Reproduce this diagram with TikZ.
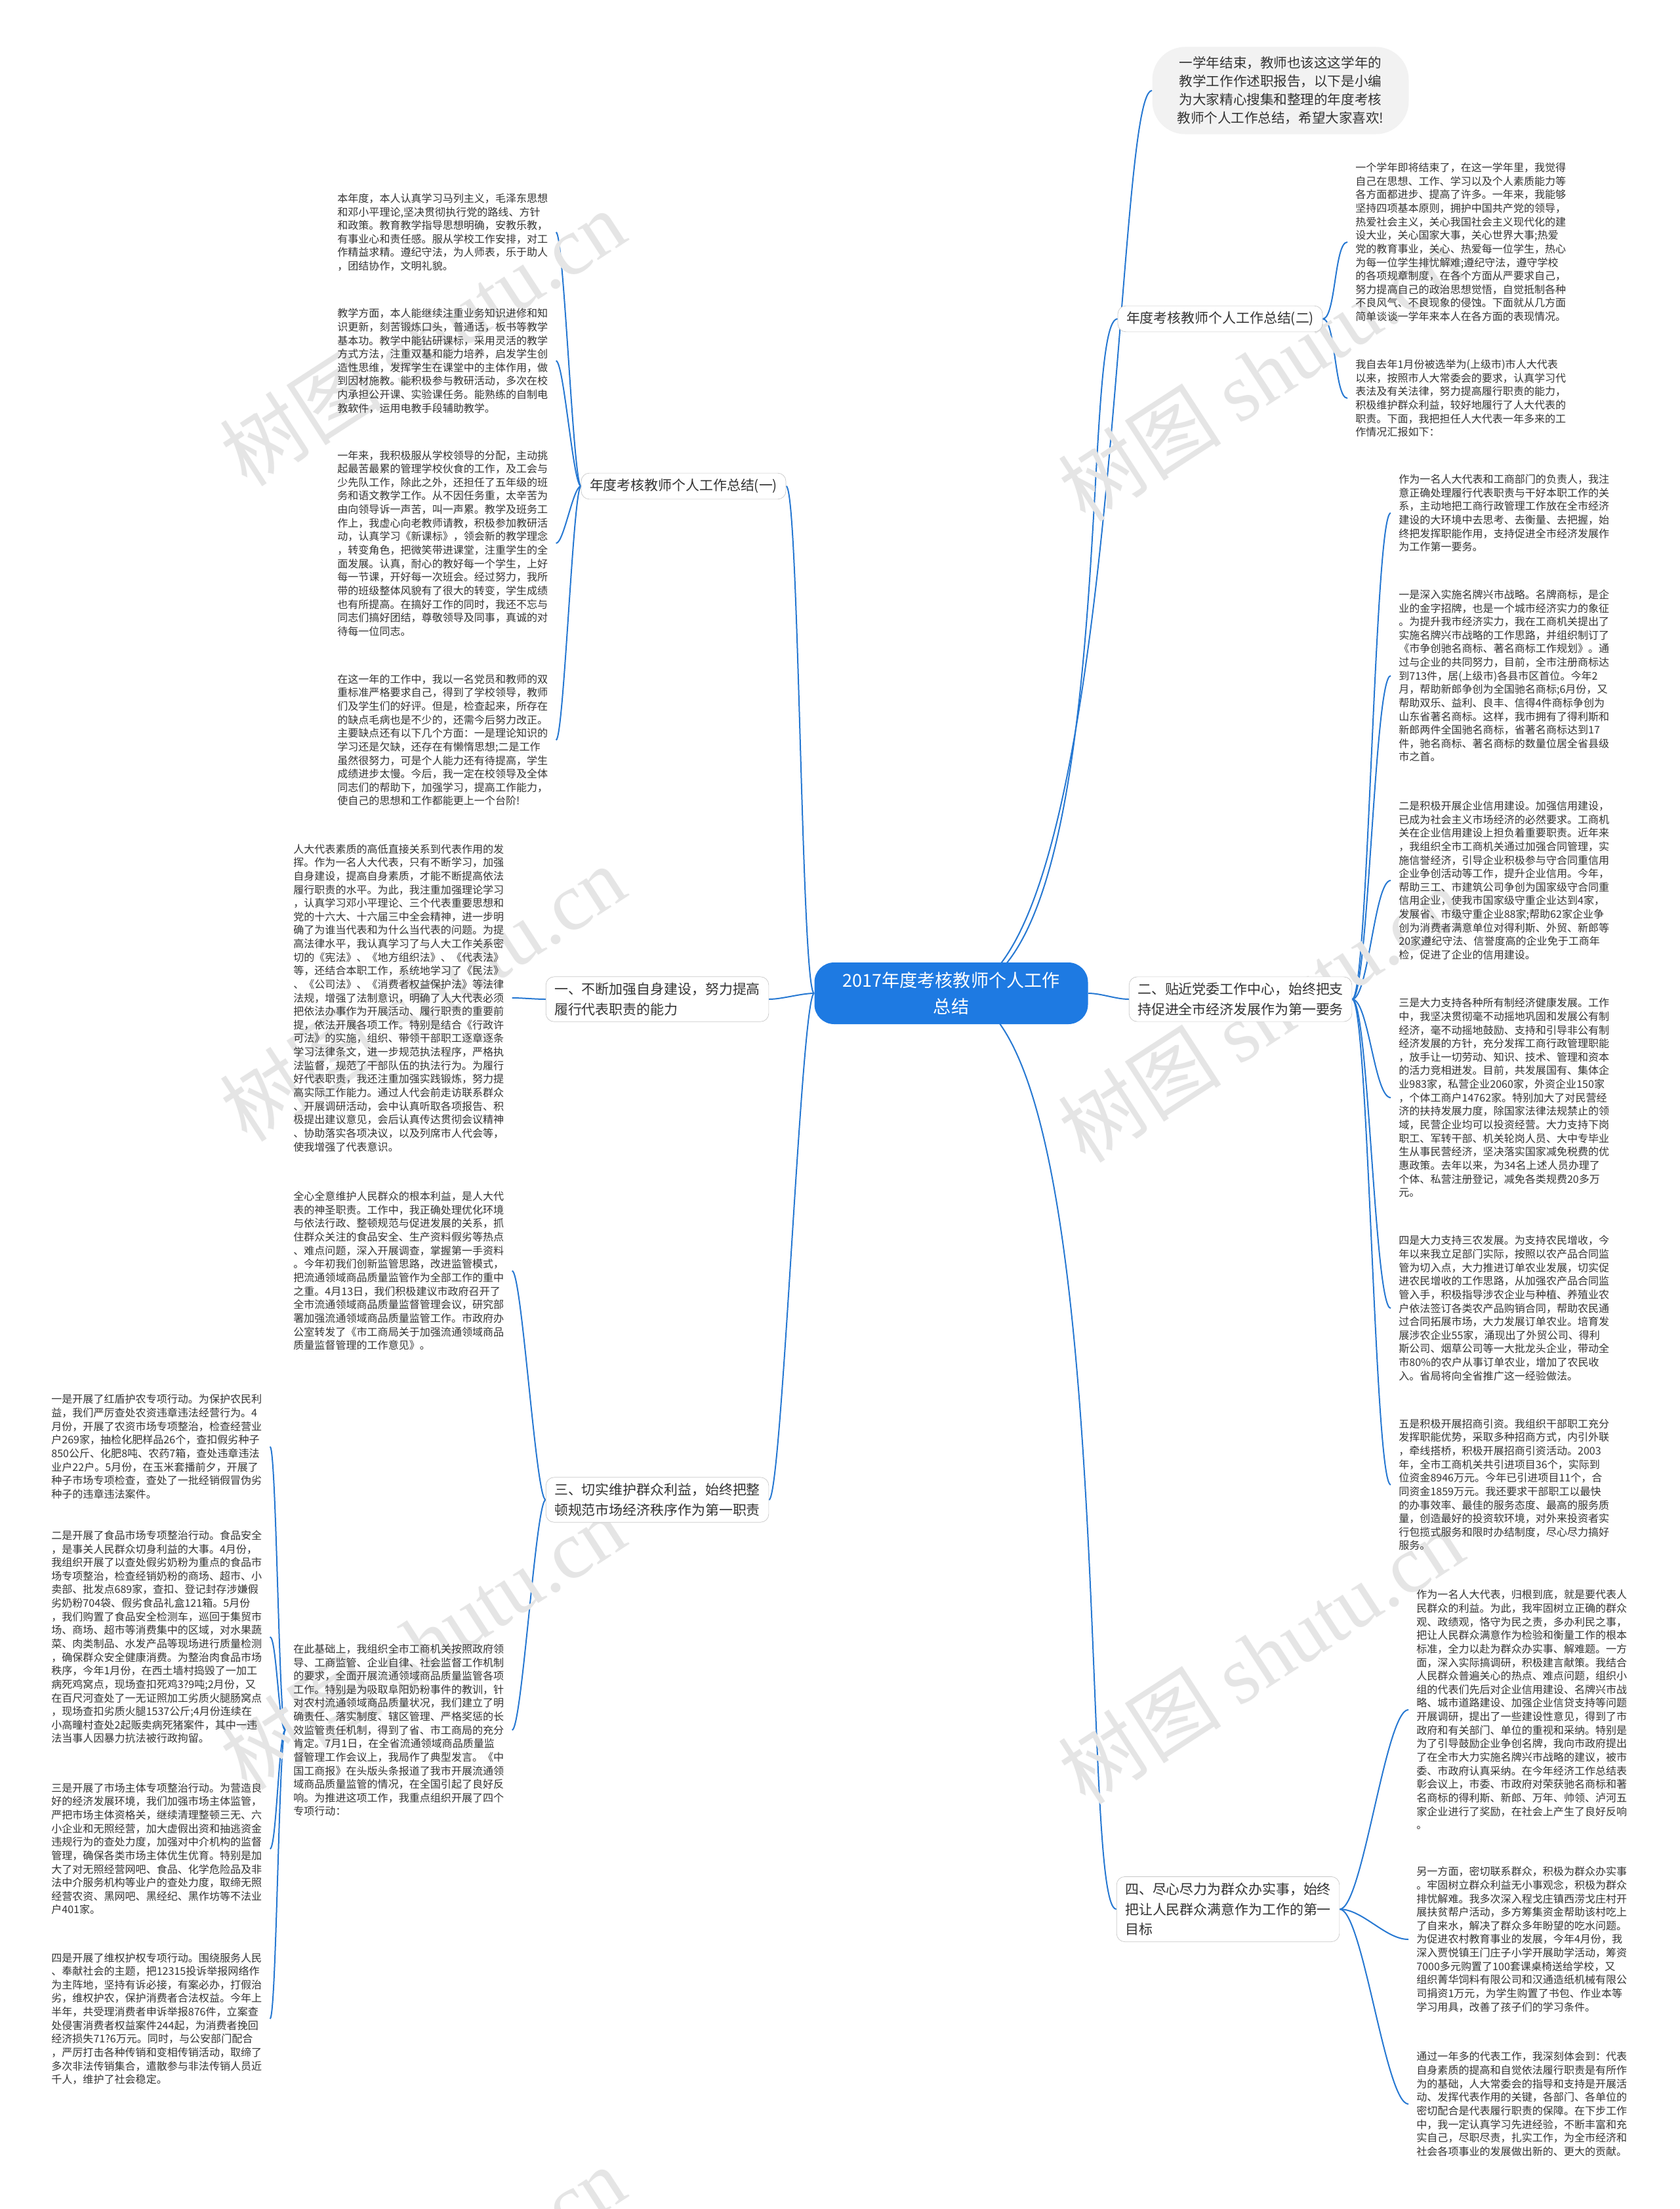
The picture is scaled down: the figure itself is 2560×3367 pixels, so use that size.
\documentclass[tikz,border=0pt]{standalone}
\usepackage{fontspec}
\setmainfont{Noto Sans CJK SC}
\newfontfamily\wmlatin{Liberation Serif}
\usetikzlibrary{backgrounds}
\definecolor{linkblue}{RGB}{38,120,210}
\definecolor{rootblue}{RGB}{30,122,226}
\definecolor{textgray}{RGB}{51,51,51}
\definecolor{boxline}{RGB}{200,200,200}
\newcommand\blockfont{\fontsize{9.13pt}{11.74pt}\selectfont}
\newcommand\topicfont{\fontsize{11.9pt}{17.6pt}\selectfont}
\newcommand\introfont{\fontsize{11.7pt}{15.9pt}\selectfont}
\newcommand\rootfont{\fontsize{15.4pt}{23.2pt}\selectfont}

\begin{document}
\begin{tikzpicture}[
        x=0.2mm, y=-0.2mm,
        link/.style={draw=linkblue, line width=0.4mm},
        root/.style={fill=rootblue, text=white, rounded corners=6mm, align=center, font=\rootfont, minimum width=83.4mm, minimum height=18.8mm},
        topic/.style={draw=boxline, fill=white, rounded corners=2.5mm, align=left, font=\topicfont, text=textgray, inner xsep=2.6mm, inner ysep=1.8mm},
        intro/.style={fill=gray!10, rounded corners=10mm, align=center, font=\introfont, text=textgray, minimum width=78.2mm, minimum height=26.6mm},
        txt/.style={anchor=west, align=left, font=\blockfont, text=textgray, inner xsep=2.4mm, inner ysep=0pt},
        wm/.style={text=gray!20, font=\fontsize{71pt}{71pt}\selectfont, rotate=33}
    ]
    \useasboundingbox (0,0) rectangle (2560,3367);

    % watermarks
    \foreach \wx/\wy in {644/515, 644/1514, 644/2502, 644/3496, 1922/569, 1922/1546, 1922/2524}
        \node[wm] at (\wx,\wy) {树图 {\wmlatin shutu.cn}};

    % centre and topics
    \node[root] (root) at (1450,1514) {2017年度考核教师个人工作\\总结};
    \node[intro] (intro) at (1952,138) {一学年结束，教师也该这这学年的\\教学工作作述职报告，以下是小编\\为大家精心搜集和整理的年度考核\\教师个人工作总结，希望大家喜欢!};
    \node[topic] (t2) at (1860,486) {年度考核教师个人工作总结(二)};
    \node[topic] (s2) at (1891,1523) {二、贴近党委工作中心，始终把支\\持促进全市经济发展作为第一要务};
    \node[topic] (s4) at (1872,2910) {四、尽心尽力为群众办实事，始终\\把让人民群众满意作为工作的第一\\目标};
    \node[topic] (t1) at (1042,741) {年度考核教师个人工作总结(一)};
    \node[topic] (s1) at (1002,1523) {一、不断加强自身建设，努力提高\\履行代表职责的能力};
    \node[topic] (s3) at (1002,2286) {三、切实维护群众利益，始终把整\\顿规范市场经济秩序作为第一职责};

    % right side texts
    \node[txt] (a) at (2054,369) {一个学年即将结束了，在这一学年里，我觉得\\
自己在思想、工作、学习以及个人素质能力等\\
各方面都进步、提高了许多。一年来，我能够\\
坚持四项基本原则，拥护中国共产党的领导，\\
热爱社会主义，关心我国社会主义现代化的建\\
设大业，关心国家大事，关心世界大事;热爱\\
党的教育事业，关心、热爱每一位学生，热心\\
为每一位学生排忧解难;遵纪守法，遵守学校\\
的各项规章制度，在各个方面从严要求自己，\\
努力提高自己的政治思想觉悟，自觉抵制各种\\
不良风气、不良现象的侵蚀。下面就从几方面\\
简单谈谈一学年来本人在各方面的表现情况。};
    \node[txt] (b) at (2054,607) {我自去年1月份被选举为(上级市)市人大代表\\
以来，按照市人大常委会的要求，认真学习代\\
表法及有关法律，努力提高履行职责的能力，\\
积极维护群众利益，较好地履行了人大代表的\\
职责。下面，我把担任人大代表一年多来的工\\
作情况汇报如下：};
    \node[txt] (c) at (2120,782) {作为一名人大代表和工商部门的负责人，我注\\
意正确处理履行代表职责与干好本职工作的关\\
系，主动地把工商行政管理工作放在全市经济\\
建设的大环境中去思考、去衡量、去把握，始\\
终把发挥职能作用，支持促进全市经济发展作\\
为工作第一要务。};
    \node[txt] (d) at (2120,1030) {一是深入实施名牌兴市战略。名牌商标，是企\\
业的金字招牌，也是一个城市经济实力的象征\\
。为提升我市经济实力，我在工商机关提出了\\
实施名牌兴市战略的工作思路，并组织制订了\\
《市争创驰名商标、著名商标工作规划》。通\\
过与企业的共同努力，目前，全市注册商标达\\
到713件，居(上级市)各县市区首位。今年2\\
月，帮助新郎争创为全国驰名商标;6月份，又\\
帮助双乐、益利、良丰、信得4件商标争创为\\
山东省著名商标。这样，我市拥有了得利斯和\\
新郎两件全国驰名商标，省著名商标达到17\\
件，驰名商标、著名商标的数量位居全省县级\\
市之首。};
    \node[txt] (e) at (2120,1342) {二是积极开展企业信用建设。加强信用建设，\\
已成为社会主义市场经济的必然要求。工商机\\
关在企业信用建设上担负着重要职责。近年来\\
，我组织全市工商机关通过加强合同管理，实\\
施信誉经济，引导企业积极参与守合同重信用\\
企业争创活动等工作，提升企业信用。今年，\\
帮助三工、市建筑公司争创为国家级守合同重\\
信用企业，使我市国家级守重企业达到4家，\\
发展省、市级守重企业88家;帮助62家企业争\\
创为消费者满意单位对得利斯、外贸、新郎等\\
20家遵纪守法、信誉度高的企业免于工商年\\
检，促进了企业的信用建设。};
    \node[txt] (f) at (2120,1673) {三是大力支持各种所有制经济健康发展。工作\\
中，我坚决贯彻毫不动摇地巩固和发展公有制\\
经济，毫不动摇地鼓励、支持和引导非公有制\\
经济发展的方针，充分发挥工商行政管理职能\\
，放手让一切劳动、知识、技术、管理和资本\\
的活力竞相迸发。目前，共发展国有、集体企\\
业983家，私营企业2060家，外资企业150家\\
，个体工商户14762家。特别加大了对民营经\\
济的扶持发展力度，除国家法律法规禁止的领\\
域，民营企业均可以投资经营。大力支持下岗\\
职工、军转干部、机关轮岗人员、大中专毕业\\
生从事民营经济，坚决落实国家减免税费的优\\
惠政策。去年以来，为34名上述人员办理了\\
个体、私营注册登记，减免各类规费20多万\\
元。};
    \node[txt] (g) at (2120,1994) {四是大力支持三农发展。为支持农民增收，今\\
年以来我立足部门实际，按照以农产品合同监\\
管为切入点，大力推进订单农业发展，切实促\\
进农民增收的工作思路，从加强农产品合同监\\
管入手，积极指导涉农企业与种植、养殖业农\\
户依法签订各类农产品购销合同，帮助农民通\\
过合同拓展市场，大力发展订单农业。培育发\\
展涉农企业55家，涌现出了外贸公司、得利\\
斯公司、烟草公司等一大批龙头企业，带动全\\
市80\%的农户从事订单农业，增加了农民收\\
入。省局将向全省推广这一经验做法。};
    \node[txt] (h) at (2120,2263) {五是积极开展招商引资。我组织干部职工充分\\
发挥职能优势，采取多种招商方式，内引外联\\
，牵线搭桥，积极开展招商引资活动。2003\\
年，全市工商机关共引进项目36个，实际到\\
位资金8946万元。今年已引进项目11个，合\\
同资金1859万元。我还要求干部职工以最快\\
的办事效率、最佳的服务态度、最高的服务质\\
量，创造最好的投资软环境，对外来投资者实\\
行包揽式服务和限时办结制度，尽心尽力搞好\\
服务。};
    \node[txt] (i) at (2147,2606) {作为一名人大代表，归根到底，就是要代表人\\
民群众的利益。为此，我牢固树立正确的群众\\
观、政绩观，恪守为民之责，多办利民之事，\\
把让人民群众满意作为检验和衡量工作的根本\\
标准，全力以赴为群众办实事、解难题。一方\\
面，深入实际搞调研，积极建言献策。我结合\\
人民群众普遍关心的热点、难点问题，组织小\\
组的代表们先后对企业信用建设、名牌兴市战\\
略、城市道路建设、加强企业信贷支持等问题\\
开展调研，提出了一些建设性意见，得到了市\\
政府和有关部门、单位的重视和采纳。特别是\\
为了引导鼓励企业争创名牌，我向市政府提出\\
了在全市大力实施名牌兴市战略的建议，被市\\
委、市政府认真采纳。在今年经济工作总结表\\
彰会议上，市委、市政府对荣获驰名商标和著\\
名商标的得利斯、新郎、万年、帅领、泸河五\\
家企业进行了奖励，在社会上产生了良好反响\\
。};
    \node[txt] (j) at (2147,2956) {另一方面，密切联系群众，积极为群众办实事\\
。牢固树立群众利益无小事观念，积极为群众\\
排忧解难。我多次深入程戈庄镇西涝戈庄村开\\
展扶贫帮户活动，多方筹集资金帮助该村吃上\\
了自来水，解决了群众多年盼望的吃水问题。\\
为促进农村教育事业的发展，今年4月份，我\\
深入贾悦镇王门庄子小学开展助学活动，筹资\\
7000多元购置了100套课桌椅送给学校，又\\
组织菁华饲料有限公司和汉通造纸机械有限公\\
司捐资1万元，为学生购置了书包、作业本等\\
学习用具，改善了孩子们的学习条件。};
    \node[txt] (k) at (2147,3207) {通过一年多的代表工作，我深刻体会到：代表\\
自身素质的提高和自觉依法履行职责是有所作\\
为的基础，人大常委会的指导和支持是开展活\\
动、发挥代表作用的关键，各部门、各单位的\\
密切配合是代表履行职责的保障。在下步工作\\
中，我一定认真学习先进经验，不断丰富和充\\
实自己，尽职尽责，扎实工作，为全市经济和\\
社会各项事业的发展做出新的、更大的贡献。};

    % left side texts
    \node[txt] (l1) at (502,354) {本年度，本人认真学习马列主义，毛泽东思想\\
和邓小平理论,坚决贯彻执行党的路线、方针\\
和政策。教育教学指导思想明确，安教乐教，\\
有事业心和责任感。服从学校工作安排，对工\\
作精益求精。遵纪守法，为人师表，乐于助人\\
，团结协作，文明礼貌。};
    \node[txt] (l2) at (502,550) {教学方面，本人能继续注重业务知识进修和知\\
识更新，刻苦锻炼口头，普通话，板书等教学\\
基本功。教学中能钻研课标，采用灵活的教学\\
方式方法，注重双基和能力培养，启发学生创\\
造性思维，发挥学生在课堂中的主体作用，做\\
到因材施教。能积极参与教研活动，多次在校\\
内承担公开课、实验课任务。能熟练的自制电\\
教软件，运用电教手段辅助教学。};
    \node[txt] (l3) at (502,828) {一年来，我积极服从学校领导的分配，主动挑\\
起最苦最累的管理学校伙食的工作，及工会与\\
少先队工作，除此之外，还担任了五年级的班\\
务和语文教学工作。从不因任务重，太辛苦为\\
由向领导诉一声苦，叫一声累。教学及班务工\\
作上，我虚心向老教师请教，积极参加教研活\\
动，认真学习《新课标》，领会新的教学理念\\
，转变角色，把微笑带进课堂，注重学生的全\\
面发展。认真，耐心的教好每一个学生，上好\\
每一节课，开好每一次班会。经过努力，我所\\
带的班级整体风貌有了很大的转变，学生成绩\\
也有所提高。在搞好工作的同时，我还不忘与\\
同志们搞好团结，尊敬领导及同事，真诚的对\\
待每一位同志。};
    \node[txt] (l4) at (502,1128) {在这一年的工作中，我以一名党员和教师的双\\
重标准严格要求自己，得到了学校领导，教师\\
们及学生们的好评。但是，检查起来，所存在\\
的缺点毛病也是不少的，还需今后努力改正。\\
主要缺点还有以下几个方面：一是理论知识的\\
学习还是欠缺，还存在有懒惰思想;二是工作\\
虽然很努力，可是个人能力还有待提高，学生\\
成绩进步太慢。今后，我一定在校领导及全体\\
同志们的帮助下，加强学习，提高工作能力，\\
使自己的思想和工作都能更上一个台阶!};
    \node[txt] (m1) at (435,1521) {人大代表素质的高低直接关系到代表作用的发\\
挥。作为一名人大代表，只有不断学习，加强\\
自身建设，提高自身素质，才能不断提高依法\\
履行职责的水平。为此，我注重加强理论学习\\
，认真学习邓小平理论、三个代表重要思想和\\
党的十六大、十六届三中全会精神，进一步明\\
确了为谁当代表和为什么当代表的问题。为提\\
高法律水平，我认真学习了与人大工作关系密\\
切的《宪法》、《地方组织法》、《代表法》\\
等，还结合本职工作，系统地学习了《民法》\\
、《公司法》、《消费者权益保护法》等法律\\
法规，增强了法制意识，明确了人大代表必须\\
把依法办事作为开展活动、履行职责的重要前\\
提，依法开展各项工作。特别是结合《行政许\\
可法》的实施，组织、带领干部职工逐章逐条\\
学习法律条文，进一步规范执法程序，严格执\\
法监督，规范了干部队伍的执法行为。为履行\\
好代表职责，我还注重加强实践锻炼，努力提\\
高实际工作能力。通过人代会前走访联系群众\\
、开展调研活动，会中认真听取各项报告、积\\
极提出建议意见，会后认真传达贯彻会议精神\\
、协助落实各项决议，以及列席市人代会等，\\
使我增强了代表意识。};
    \node[txt] (m2) at (435,1937) {全心全意维护人民群众的根本利益，是人大代\\
表的神圣职责。工作中，我正确处理优化环境\\
与依法行政、整顿规范与促进发展的关系，抓\\
住群众关注的食品安全、生产资料假劣等热点\\
、难点问题，深入开展调查，掌握第一手资料\\
。今年初我们创新监管思路，改进监管模式，\\
把流通领域商品质量监管作为全部工作的重中\\
之重。4月13日，我们积极建议市政府召开了\\
全市流通领域商品质量监督管理会议，研究部\\
署加强流通领域商品质量监管工作。市政府办\\
公室转发了《市工商局关于加强流通领域商品\\
质量监督管理的工作意见》。};
    \node[txt] (nn) at (435,2637) {在此基础上，我组织全市工商机关按照政府领\\
导、工商监管、企业自律、社会监督工作机制\\
的要求，全面开展流通领域商品质量监管各项\\
工作。特别是为吸取阜阳奶粉事件的教训，针\\
对农村流通领域商品质量状况，我们建立了明\\
确责任、落实制度、辖区管理、严格奖惩的长\\
效监管责任机制，得到了省、市工商局的充分\\
肯定。7月1日，在全省流通领域商品质量监\\
督管理工作会议上，我局作了典型发言。《中\\
国工商报》在头版头条报道了我市开展流通领\\
域商品质量监管的情况，在全国引起了良好反\\
响。为推进这项工作，我重点组织开展了四个\\
专项行动：};
    \node[txt] (o1) at (66,2205) {一是开展了红盾护农专项行动。为保护农民利\\
益，我们严厉查处农资违章违法经营行为。4\\
月份，开展了农资市场专项整治，检查经营业\\
户269家，抽检化肥样品26个，查扣假劣种子\\
850公斤、化肥8吨、农药7箱，查处违章违法\\
业户22户。5月份，在玉米套播前夕，开展了\\
种子市场专项检查，查处了一批经销假冒伪劣\\
种子的违章违法案件。};
    \node[txt] (o2) at (66,2495) {二是开展了食品市场专项整治行动。食品安全\\
，是事关人民群众切身利益的大事。4月份，\\
我组织开展了以查处假劣奶粉为重点的食品市\\
场专项整治，检查经销奶粉的商场、超市、小\\
卖部、批发点689家，查扣、登记封存涉嫌假\\
劣奶粉704袋、假劣食品礼盒121箱。5月份\\
，我们购置了食品安全检测车，巡回于集贸市\\
场、商场、超市等消费集中的区域，对水果蔬\\
菜、肉类制品、水发产品等现场进行质量检测\\
，确保群众安全健康消费。为整治肉食品市场\\
秩序，今年1月份，在西土墙村捣毁了一加工\\
病死鸡窝点，现场查扣死鸡3?9吨;2月份，又\\
在百尺河查处了一无证照加工劣质火腿肠窝点\\
，现场查扣劣质火腿1537公斤;4月份连续在\\
小高疃村查处2起贩卖病死猪案件，其中一违\\
法当事人因暴力抗法被行政拘留。};
    \node[txt] (o3) at (66,2818) {三是开展了市场主体专项整治行动。为营造良\\
好的经济发展环境，我们加强市场主体监管，\\
严把市场主体资格关，继续清理整顿三无、六\\
小企业和无照经营，加大虚假出资和抽逃资金\\
违规行为的查处力度，加强对中介机构的监督\\
管理，确保各类市场主体优生优育。特别是加\\
大了对无照经营网吧、食品、化学危险品及非\\
法中介服务机构等业户的查处力度，取缔无照\\
经营农资、黑网吧、黑经纪、黑作坊等不法业\\
户401家。};
    \node[txt] (o4) at (66,3077) {四是开展了维权护权专项行动。围绕服务人民\\
、奉献社会的主题，把12315投诉举报网络作\\
为主阵地，坚持有诉必接，有案必办，打假治\\
劣，维权护农，保护消费者合法权益。今年上\\
半年，共受理消费者申诉举报876件，立案查\\
处侵害消费者权益案件244起，为消费者挽回\\
经济损失71?6万元。同时，与公安部门配合\\
，严厉打击各种传销和变相传销活动，取缔了\\
多次非法传销集合，遣散参与非法传销人员近\\
千人，维护了社会稳定。};

    % connectors, kept behind the boxes
    \begin{scope}[on background layer]
    \draw[link] (root.center) .. controls +(260,0) and +(-60,0) .. (intro.west);
    \draw[link] (root.center) .. controls +(260,0) and +(-60,0) .. (t2.west);
    \draw[link] (root.east) .. controls +(20,0) and +(-20,0) .. (s2.west);
    \draw[link] (root.center) .. controls +(260,0) and +(-60,0) .. (s4.west);
    \draw[link] (root.west) .. controls +(-20,0) and +(20,0) .. (t1.east);
    \draw[link] (root.west) .. controls +(-20,0) and +(20,0) .. (s1.east);
    \draw[link] (root.west) .. controls +(-20,0) and +(20,0) .. (s3.east);
    \draw[link] (t2.east) .. controls +(20,0) and +(-20,0) .. (a.west);
    \draw[link] (t2.east) .. controls +(20,0) and +(-20,0) .. (b.west);
    \draw[link] (s2.east) .. controls +(25,0) and +(-25,0) .. (c.west);
    \draw[link] (s2.east) .. controls +(25,0) and +(-25,0) .. (d.west);
    \draw[link] (s2.east) .. controls +(25,0) and +(-25,0) .. (e.west);
    \draw[link] (s2.east) .. controls +(25,0) and +(-25,0) .. (f.west);
    \draw[link] (s2.east) .. controls +(25,0) and +(-25,0) .. (g.west);
    \draw[link] (s2.east) .. controls +(25,0) and +(-25,0) .. (h.west);
    \draw[link] (s4.east) .. controls +(35,0) and +(-35,0) .. (i.west);
    \draw[link] (s4.east) .. controls +(35,0) and +(-35,0) .. (j.west);
    \draw[link] (s4.east) .. controls +(35,0) and +(-35,0) .. (k.west);
    \draw[link] (t1.west) .. controls +(-12,0) and +(12,0) .. (l1.east);
    \draw[link] (t1.west) .. controls +(-12,0) and +(12,0) .. (l2.east);
    \draw[link] (t1.west) .. controls +(-12,0) and +(12,0) .. (l3.east);
    \draw[link] (t1.west) .. controls +(-12,0) and +(12,0) .. (l4.east);
    \draw[link] (s1.west) .. controls +(-15,0) and +(15,0) .. (m1.east);
    \draw[link] (s3.west) .. controls +(-15,0) and +(15,0) .. (m2.east);
    \draw[link] (s3.west) .. controls +(-15,0) and +(15,0) .. (nn.east);
    \draw[link] (nn.west) .. controls +(-10,0) and +(10,0) .. (o1.east);
    \draw[link] (nn.west) .. controls +(-10,0) and +(10,0) .. (o2.east);
    \draw[link] (nn.west) .. controls +(-10,0) and +(10,0) .. (o3.east);
    \draw[link] (nn.west) .. controls +(-10,0) and +(10,0) .. (o4.east);
    \end{scope}
\end{tikzpicture}
\end{document}
